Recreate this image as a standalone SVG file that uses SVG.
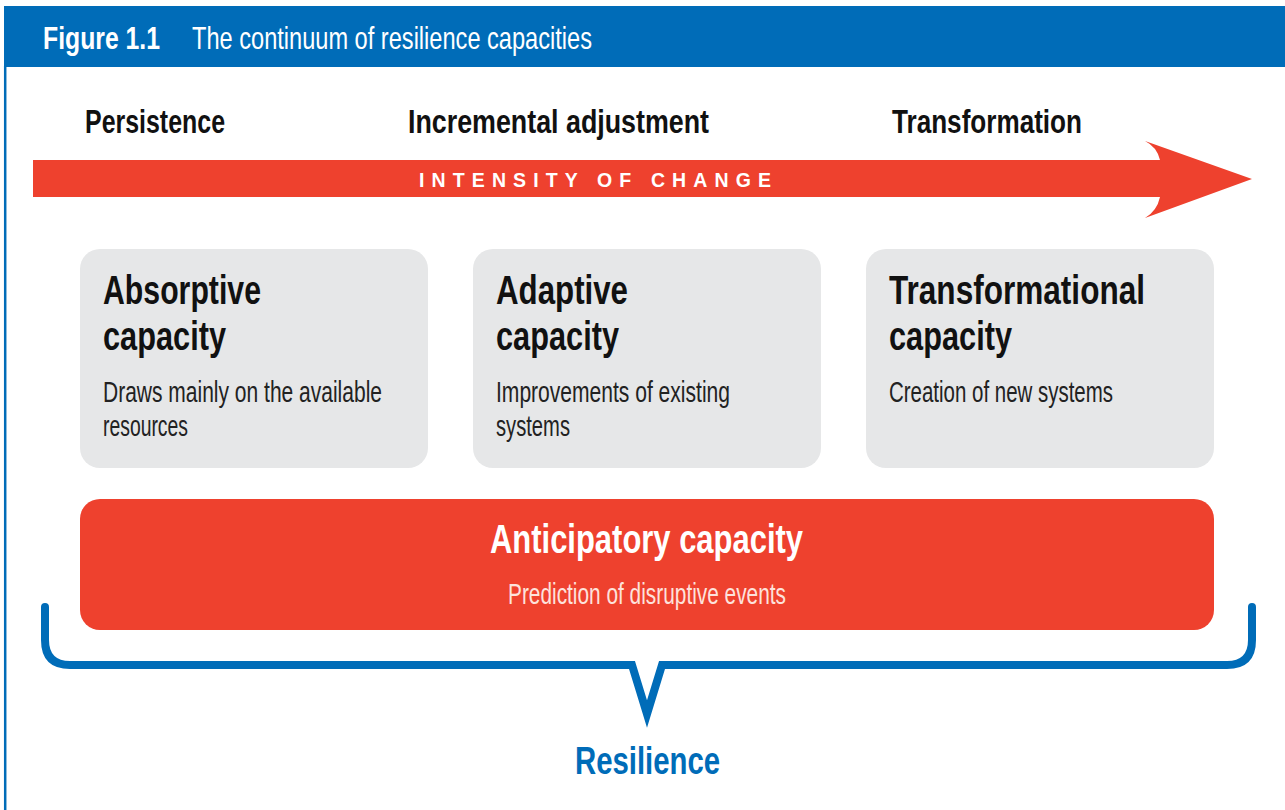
<svg xmlns="http://www.w3.org/2000/svg" width="1285" height="810" viewBox="0 0 1285 810">
  <style>
    .t { font-family: "Liberation Sans", Arial, sans-serif; }
    .b { font-weight: bold; }
    .hd { font-size: 34px; fill: #111111; font-weight: bold; }
    .bt { font-size: 41px; fill: #111111; font-weight: bold; }
    .bd { font-size: 29.5px; fill: #222222; font-weight: normal; }
    .box { fill: #E6E7E8; }
  </style>
  <rect x="0" y="0" width="1285" height="810" fill="#FFFFFF"/>
  <g id="frame">
    <rect x="4" y="6" width="1281" height="61" fill="#006CB8"/>
    <line x1="5.2" y1="66" x2="5.2" y2="810" stroke="#006CB8" stroke-width="2.5"/>
    <text class="t b" x="43" y="49" font-size="31.5" fill="#FFFFFF" textLength="117" lengthAdjust="spacingAndGlyphs">Figure 1.1</text>
    <text class="t" x="192" y="49" font-size="31.5" fill="#FFFFFF" textLength="400" lengthAdjust="spacingAndGlyphs">The continuum of resilience capacities</text>
  </g>
  <g id="scale-labels">
    <text class="t hd" x="85" y="133" textLength="140" lengthAdjust="spacingAndGlyphs">Persistence</text>
    <text class="t hd" x="408" y="133" textLength="301" lengthAdjust="spacingAndGlyphs">Incremental adjustment</text>
    <text class="t hd" x="892" y="133" textLength="190" lengthAdjust="spacingAndGlyphs">Transformation</text>
  </g>
  <g id="connectors">
    <path id="intensity-arrow" d="M33,160 L1160,160 Q1157,147 1145,141 L1252,179 L1145,218 Q1157,211 1160,197 L33,197 Z" fill="#EE412E"/>
    <path id="resilience-brace" d="M45,607 L45,640 Q45,665 70,665 L632,665 L647,714 L662,665 L1227,665 Q1252,665 1252,640 L1252,607" fill="none" stroke="#006CB8" stroke-width="8" stroke-linecap="round" stroke-linejoin="miter" stroke-miterlimit="6"/>
  </g>
  <g id="intensity-label">
    <text class="t b" x="419" y="187" font-size="19.5" fill="#FFFFFF" textLength="352" lengthAdjust="spacing">INTENSITY OF CHANGE</text>
  </g>
  <g id="absorptive">
    <rect class="box" x="80" y="249" width="348" height="219" rx="20"/>
    <text class="t bt" x="103" y="304" textLength="158" lengthAdjust="spacingAndGlyphs">Absorptive</text>
    <text class="t bt" x="103" y="350" textLength="123" lengthAdjust="spacingAndGlyphs">capacity</text>
    <text class="t bd" x="103" y="402" textLength="279" lengthAdjust="spacingAndGlyphs">Draws mainly on the available</text>
    <text class="t bd" x="103" y="436" textLength="85" lengthAdjust="spacingAndGlyphs">resources</text>
  </g>
  <g id="adaptive">
    <rect class="box" x="473" y="249" width="348" height="219" rx="20"/>
    <text class="t bt" x="496" y="304" textLength="132" lengthAdjust="spacingAndGlyphs">Adaptive</text>
    <text class="t bt" x="496" y="350" textLength="123" lengthAdjust="spacingAndGlyphs">capacity</text>
    <text class="t bd" x="496" y="402" textLength="234" lengthAdjust="spacingAndGlyphs">Improvements of existing</text>
    <text class="t bd" x="496" y="436" textLength="74" lengthAdjust="spacingAndGlyphs">systems</text>
  </g>
  <g id="transformational">
    <rect class="box" x="866" y="249" width="348" height="219" rx="20"/>
    <text class="t bt" x="889" y="304" textLength="256" lengthAdjust="spacingAndGlyphs">Transformational</text>
    <text class="t bt" x="889" y="350" textLength="123" lengthAdjust="spacingAndGlyphs">capacity</text>
    <text class="t bd" x="889" y="402" textLength="224" lengthAdjust="spacingAndGlyphs">Creation of new systems</text>
  </g>
  <g id="anticipatory">
    <rect x="80" y="499" width="1134" height="131" rx="20" fill="#EE412E"/>
    <text class="t b" x="490" y="553" font-size="41" fill="#FFFFFF" textLength="313" lengthAdjust="spacingAndGlyphs">Anticipatory capacity</text>
    <text class="t" x="508" y="604" font-size="29.5" fill="#FDE2DC" textLength="278" lengthAdjust="spacingAndGlyphs">Prediction of disruptive events</text>
  </g>
  <g id="resilience">
    <text class="t b" x="575" y="774" font-size="39" fill="#006CB8" textLength="145" lengthAdjust="spacingAndGlyphs">Resilience</text>
  </g>
</svg>
